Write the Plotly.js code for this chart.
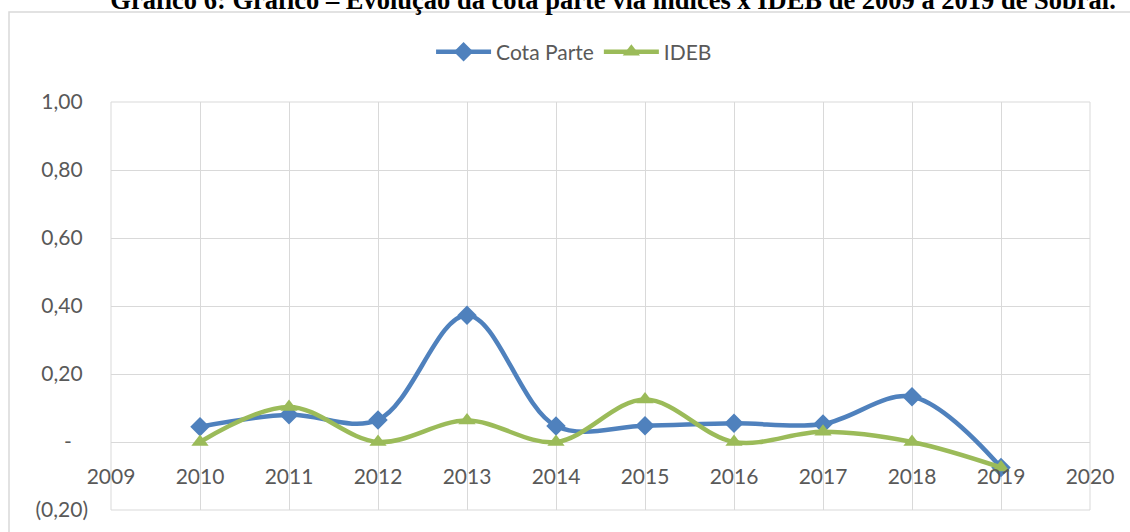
<!DOCTYPE html>
<html>
<head>
<meta charset="utf-8">
<script src="https://cdn.plot.ly/plotly-3.0.1.min.js"></script>
<style>
  html, body { margin: 0; padding: 0; background: #ffffff; }
  #chart { width: 1130px; height: 532px; }
</style>
</head>
<body>
<div id="chart"></div>
<script>
const titleText = 'Gráfico 6: Gráfico – Evolução da cota parte via índices x IDEB de 2009 a 2019 de Sobral.';
const years = [2010, 2011, 2012, 2013, 2014, 2015, 2016, 2017, 2018, 2019];
const cotaParte = [0.045, 0.080, 0.065, 0.373, 0.047, 0.048, 0.055, 0.053, 0.133, -0.075];
const ideb = [0.000, 0.103, 0.000, 0.063, 0.000, 0.125, 0.000, 0.030, 0.000, -0.075];
const seriesNames = ['Cota Parte', 'IDEB'];
const xTickVals = [2009, 2010, 2011, 2012, 2013, 2014, 2015, 2016, 2017, 2018, 2019, 2020];
const xTickText = ['2009', '2010', '2011', '2012', '2013', '2014', '2015', '2016', '2017', '2018', '2019', '2020'];
const yTickVals = [1.0, 0.8, 0.6, 0.4, 0.2, 0, -0.2];
const yTickText = ['1,00\u00a0', '0,80\u00a0', '0,60\u00a0', '0,40\u00a0', '0,20\u00a0', '-\u00a0\u00a0\u00a0', '(0,20)'];

const FONT = 'Lato, "Open Sans", sans-serif';
const GRID = '#d9d9d9';
const TXT = '#595959';

const traces = [
  {
    x: years, y: cotaParte, name: seriesNames[0], type: 'scatter', mode: 'lines+markers',
    line: { color: '#4f81bd', width: 4.5, shape: 'spline', smoothing: 1 },
    marker: { symbol: 'diamond', size: 15, color: '#4f81bd' }
  },
  {
    x: years, y: ideb, name: seriesNames[1], type: 'scatter', mode: 'lines+markers',
    line: { color: '#9bbb59', width: 4.5, shape: 'spline', smoothing: 1 },
    marker: { symbol: 'triangle-up', size: 15, color: '#9bbb59' }
  }
];

const layout = {
  width: 1130, height: 532,
  margin: { l: 111, r: 40, t: 102, b: 22 },
  paper_bgcolor: '#ffffff', plot_bgcolor: '#ffffff',
  font: { family: FONT, size: 21, color: TXT },
  title: {
    text: titleText,
    font: { family: '"Liberation Serif", "Times New Roman", serif', size: 26.5, color: '#000000', weight: 'bold' },
    x: 0.5425, xanchor: 'center', xref: 'container',
    y: 1, yanchor: 'middle', yref: 'container'
  },
  showlegend: true,
  legend: {
    orientation: 'h', x: 0.473, xanchor: 'center', y: 1.1225, yanchor: 'middle',
    itemwidth: 55,
    font: { family: FONT, size: 21, color: TXT }, bgcolor: 'rgba(0,0,0,0)'
  },
  xaxis: {
    range: [2009, 2020], tickvals: xTickVals, ticktext: xTickText,
    showgrid: true, gridcolor: GRID, gridwidth: 1, zeroline: false, showline: false,
    ticks: '', ticklabelstandoff: 20,
    anchor: 'free', position: 0.2 / 1.2,
    tickfont: { family: FONT, size: 21, color: TXT }
  },
  yaxis: {
    range: [-0.2, 1.0], tickvals: yTickVals, ticktext: yTickText, domain: [0, 1],
    showgrid: true, gridcolor: GRID, gridwidth: 1, zeroline: false, showline: false,
    ticks: '', ticklabelstandoff: 22,
    tickfont: { family: FONT, size: 21, color: TXT }
  },
  shapes: [
    { type: 'rect', xref: 'paper', yref: 'paper', x0: 0, x1: 1, y0: 0, y1: 1,
      line: { color: GRID, width: 1 }, fillcolor: 'rgba(0,0,0,0)', layer: 'below' },
    { type: 'rect', xref: 'paper', yref: 'paper', x0: (9 - 111) / 979, x1: 1.2, y0: -0.2, y1: (510 - 12) / 408,
      line: { color: GRID, width: 1.5 }, fillcolor: 'rgba(0,0,0,0)', layer: 'below' }
  ]
};

Plotly.newPlot('chart', traces, layout, { displayModeBar: false, staticPlot: true });
</script>
</body>
</html>
